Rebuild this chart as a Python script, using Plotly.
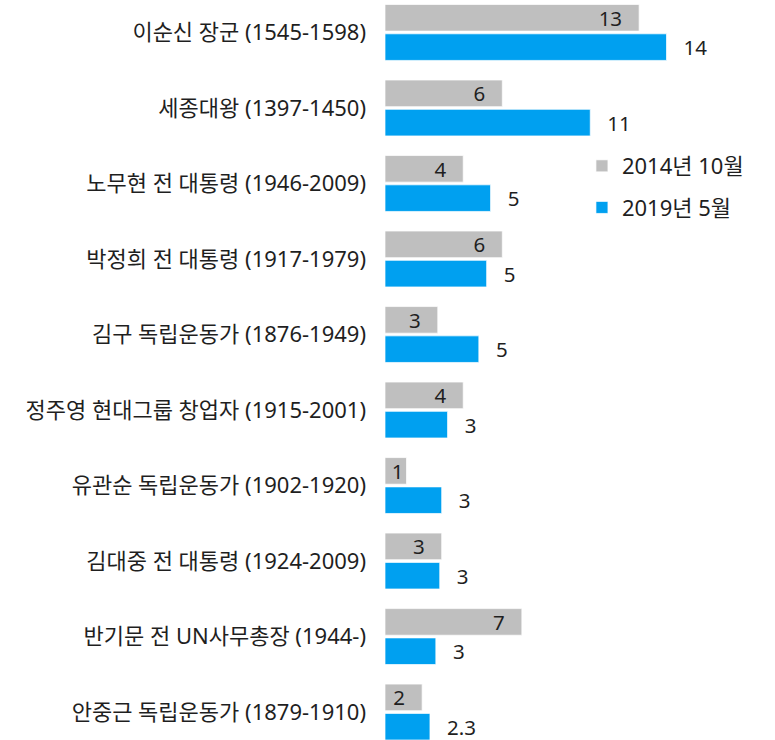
import plotly.graph_objects as go

categories = [
    "이순신 장군 (1545-1598)",
    "세종대왕 (1397-1450)",
    "노무현 전 대통령 (1946-2009)",
    "박정희 전 대통령 (1917-1979)",
    "김구 독립운동가 (1876-1949)",
    "정주영 현대그룹 창업자 (1915-2001)",
    "유관순 독립운동가 (1902-1920)",
    "김대중 전 대통령 (1924-2009)",
    "반기문 전 UN사무총장 (1944-)",
    "안중근 독립운동가 (1879-1910)",
]
series_names = ["2014년 10월", "2019년 5월"]
values_2014 = [13.0, 6.0, 4.0, 6.0, 2.7, 4.0, 1.1, 2.9, 7.0, 1.9]
values_2019 = [14.4, 10.5, 5.4, 5.2, 4.8, 3.2, 2.9, 2.8, 2.6, 2.3]
labels_2014 = ["13", "6", "4", "6", "3", "4", "1", "3", "7", "2"]
labels_2019 = ["14", "11", "5", "5", "5", "3", "3", "3", "3", "2.3"]

FONT = "Noto Sans, Noto Sans CJK KR, sans-serif"
FS_LABEL = 20.5
FS_TICK = 22
FS_LEG = 22
TXT = "#1f1f1f"
PAD = "\u00a0\u00a0\u2009"

gray_text = [t + (PAD if v >= 1.5 else "") for t, v in zip(labels_2014, values_2014)]
blue_text = [PAD + t for t in labels_2019]

fig = go.Figure()
fig.add_trace(go.Bar(
    y=categories, x=values_2014, orientation="h", name=series_names[0],
    marker=dict(color="#BFBFBF", line=dict(color="rgba(255,255,255,0.7)", width=1)),
    text=gray_text, textposition="inside", textangle=0,
    insidetextanchor="end", constraintext="none", cliponaxis=False,
    textfont=dict(family=FONT, size=FS_LABEL, color=TXT),
    legendgroup="a",
))
fig.add_trace(go.Bar(
    y=categories, x=values_2019, orientation="h", name=series_names[1],
    marker=dict(color="#00A0F0", line=dict(color="rgba(255,255,255,0.7)", width=1)),
    text=blue_text, textposition="outside", textangle=0,
    constraintext="none", cliponaxis=False,
    textfont=dict(family=FONT, size=FS_LABEL, color=TXT),
    legendgroup="b",
))

fig.update_layout(
    width=775, height=740,
    margin=dict(l=385, r=0, t=0, b=0),
    paper_bgcolor="white", plot_bgcolor="white",
    barmode="group", bargap=0.224, bargroupgap=0.092,
    font=dict(family=FONT, size=FS_TICK, color=TXT),
    showlegend=True,
    legend=dict(x=0.505, y=0.804, xanchor="left", yanchor="top",
                font=dict(family=FONT, size=FS_LEG, color=TXT),
                tracegroupgap=10, bgcolor="rgba(0,0,0,0)"),
    xaxis=dict(range=[0, 19.95], visible=False, showgrid=False, zeroline=False),
    yaxis=dict(type="category", range=[9.37, -0.43], showgrid=False,
               showline=False, zeroline=False, ticks="",
               ticklabelstandoff=18,
               tickfont=dict(family=FONT, size=FS_TICK, color=TXT)),
)

fig.write_html("out.html")
